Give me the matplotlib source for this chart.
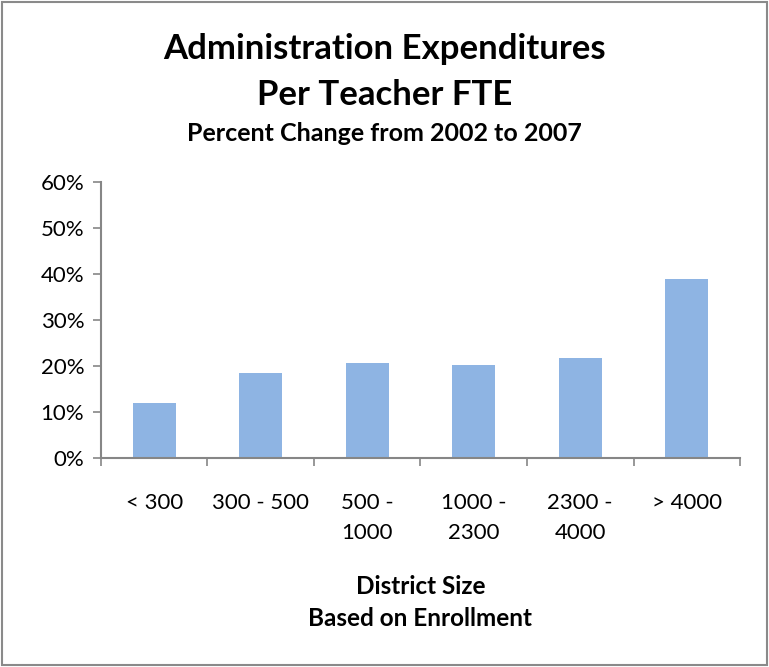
import matplotlib
matplotlib.use("Agg")
import matplotlib.pyplot as plt
from matplotlib.patches import Rectangle
from matplotlib.ticker import FuncFormatter, FixedLocator

categories = ["< 300", "300 - 500", "500 -\n1000", "1000 -\n2300", "2300 -\n4000", "> 4000"]
values = [12.0, 18.5, 20.7, 20.3, 21.8, 39.0]
yticks = [0, 10, 20, 30, 40, 50, 60]

plt.rcParams['font.family'] = ['Lato', 'DejaVu Sans']

fig = plt.figure(figsize=(7.69, 6.67), dpi=100)
ax_left, ax_width = 0.1313, 0.831
ax = fig.add_axes([ax_left, 0.3129, ax_width, 0.4142])

x = list(range(len(categories)))
ax.bar(x, values, width=0.4, color="#8EB4E3", zorder=2)
ax.set_xlim(-0.5, len(categories) - 0.5)
ax.set_ylim(0, 60)
ax.set_yticks(yticks)
ax.yaxis.set_major_formatter(FuncFormatter(lambda v, p: f"{int(v)}%"))

ax.set_xticks(x)
ax.set_xticklabels(categories, linespacing=1.6)
ax.xaxis.set_minor_locator(FixedLocator([i - 0.5 for i in range(len(categories) + 1)]))

axis_color = "#868686"
for s in ["top", "right"]:
    ax.spines[s].set_visible(False)
for s in ["left", "bottom"]:
    ax.spines[s].set_color(axis_color)
    ax.spines[s].set_linewidth(1.5)

ax.tick_params(axis="y", direction="out", length=6, width=1.2, color=axis_color,
               labelsize=16, labelcolor="black", pad=6)
ax.tick_params(axis="x", which="major", length=0, labelsize=16, labelcolor="black", pad=25)
ax.tick_params(axis="x", which="minor", direction="out", length=6, width=1.2, color=axis_color)

fig.text(0.5, 0.927, "Administration Expenditures", ha="center", va="center",
         fontsize=25, fontweight="bold")
fig.text(0.5, 0.857, "Per Teacher FTE", ha="center", va="center",
         fontsize=25, fontweight="bold")
fig.text(0.5, 0.800, "Percent Change from 2002 to 2007", ha="center", va="center",
         fontsize=18, fontweight="bold")

xc = ax_left + ax_width / 2
fig.text(xc, 0.121, "District Size", ha="center", va="center", fontsize=17.5, fontweight="bold")
fig.text(xc, 0.072, "Based on Enrollment", ha="center", va="center", fontsize=17.5, fontweight="bold")

fig.patches.append(Rectangle((0.003, 0.003), 0.994, 0.994, transform=fig.transFigure,
                             fill=False, edgecolor="#8a8a8a", linewidth=1.5))

fig.savefig("out.png", dpi=100)
